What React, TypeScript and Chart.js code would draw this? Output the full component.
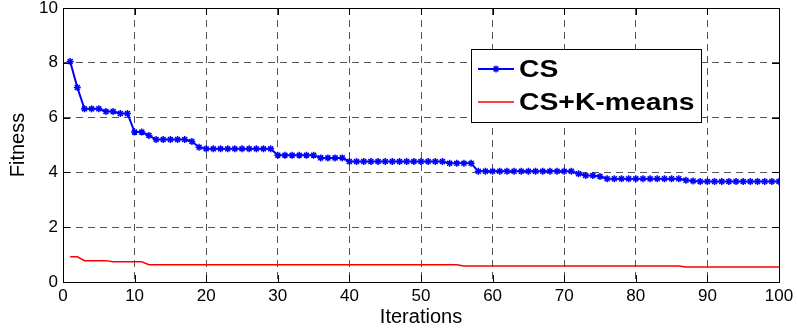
import React, { useEffect, useRef } from "react";
import { Chart, registerables } from "chart.js";

Chart.register(...registerables);

const SERIES_NAMES = ["CS", "CS+K-means"];
const X_TICKS = [0, 10, 20, 30, 40, 50, 60, 70, 80, 90, 100];
const Y_TICKS = [0, 2, 4, 6, 8, 10];

const CS_VALUES = [
  8.05, 7.1, 6.32, 6.32, 6.32, 6.22, 6.22, 6.15, 6.15, 5.47,
  5.47, 5.35, 5.2, 5.2, 5.2, 5.2, 5.2, 5.13, 4.92, 4.86,
  4.86, 4.86, 4.86, 4.86, 4.86, 4.86, 4.86, 4.86, 4.86, 4.63,
  4.63, 4.63, 4.63, 4.63, 4.63, 4.53, 4.53, 4.53, 4.53, 4.4,
  4.4, 4.4, 4.4, 4.4, 4.4, 4.4, 4.4, 4.4, 4.4, 4.4,
  4.4, 4.4, 4.4, 4.33, 4.33, 4.33, 4.33, 4.04, 4.04, 4.04,
  4.04, 4.04, 4.04, 4.04, 4.04, 4.04, 4.04, 4.04, 4.04, 4.04,
  4.04, 3.95, 3.89, 3.89, 3.85, 3.77, 3.77, 3.77, 3.77, 3.77,
  3.77, 3.77, 3.77, 3.77, 3.77, 3.77, 3.71, 3.69, 3.67, 3.67,
  3.67, 3.67, 3.67, 3.67, 3.67, 3.67, 3.67, 3.67, 3.67, 3.67,
];

const KMEANS_VALUES = [
  0.92, 0.92, 0.78, 0.78, 0.78, 0.78, 0.74, 0.74, 0.74, 0.74,
  0.74, 0.63, 0.63, 0.63, 0.63, 0.63, 0.63, 0.63, 0.63, 0.63,
  0.63, 0.63, 0.63, 0.63, 0.63, 0.63, 0.63, 0.63, 0.63, 0.63,
  0.63, 0.63, 0.63, 0.63, 0.63, 0.63, 0.63, 0.63, 0.63, 0.63,
  0.63, 0.63, 0.63, 0.63, 0.63, 0.63, 0.63, 0.63, 0.63, 0.63,
  0.63, 0.63, 0.63, 0.63, 0.63, 0.58, 0.58, 0.58, 0.58, 0.58,
  0.58, 0.58, 0.58, 0.58, 0.58, 0.58, 0.58, 0.58, 0.58, 0.58,
  0.58, 0.58, 0.58, 0.58, 0.58, 0.58, 0.58, 0.58, 0.58, 0.58,
  0.58, 0.58, 0.58, 0.58, 0.58, 0.58, 0.55, 0.55, 0.55, 0.55,
  0.55, 0.55, 0.55, 0.55, 0.55, 0.55, 0.55, 0.55, 0.55, 0.55,
];

const FONT = "'Liberation Sans', Arial, Helvetica, sans-serif";
const BLUE = "#0000ff";
const RED = "#ff0000";

const framePlugin = {
  id: "frameAndLegend",
  afterDraw(chart: any) {
    const { ctx, chartArea, scales } = chart;
    const { left, right, top, bottom } = chartArea;
    ctx.save();
    ctx.strokeStyle = "#000";
    ctx.lineWidth = 1;
    ctx.setLineDash([]);
    ctx.beginPath();
    ctx.rect(Math.round(left) + 0.5, Math.round(top) + 0.5, Math.round(right - left), Math.round(bottom - top));
    ctx.stroke();
    const tl = 7;
    ctx.beginPath();
    X_TICKS.forEach((v) => {
      const x = Math.round(scales.x.getPixelForValue(v)) + 0.5;
      ctx.moveTo(x, bottom);
      ctx.lineTo(x, bottom - tl);
      ctx.moveTo(x, top);
      ctx.lineTo(x, top + tl);
    });
    Y_TICKS.forEach((v) => {
      const y = Math.round(scales.y.getPixelForValue(v)) + 0.5;
      ctx.moveTo(left, y);
      ctx.lineTo(left + tl, y);
      ctx.moveTo(right, y);
      ctx.lineTo(right - tl, y);
    });
    ctx.stroke();

    // legend
    const lx = 471.5, ly = 49.5, lw = 230, lh = 73;
    ctx.fillStyle = "#fff";
    ctx.fillRect(lx, ly, lw, lh);
    ctx.strokeStyle = "#000";
    ctx.strokeRect(lx, ly, lw, lh);
    const rows = [
      { y: 69, color: BLUE, width: 2, marker: true, text: SERIES_NAMES[0] },
      { y: 102, color: RED, width: 1.5, marker: false, text: SERIES_NAMES[1] },
    ];
    rows.forEach((r) => {
      ctx.strokeStyle = r.color;
      ctx.lineWidth = r.width;
      ctx.beginPath();
      ctx.moveTo(478, r.y);
      ctx.lineTo(514, r.y);
      ctx.stroke();
      if (r.marker) {
        ctx.lineWidth = 1.5;
        ctx.beginPath();
        const mx = 496, my = r.y, s = 3.5;
        ctx.moveTo(mx - s, my); ctx.lineTo(mx + s, my);
        ctx.moveTo(mx, my - s); ctx.lineTo(mx, my + s);
        ctx.moveTo(mx - s * 0.7, my - s * 0.7); ctx.lineTo(mx + s * 0.7, my + s * 0.7);
        ctx.moveTo(mx - s * 0.7, my + s * 0.7); ctx.lineTo(mx + s * 0.7, my - s * 0.7);
        ctx.stroke();
      }
      ctx.save();
      ctx.fillStyle = "#000";
      ctx.font = `bold 24px ${FONT}`;
      ctx.textBaseline = "middle";
      ctx.textAlign = "left";
      ctx.translate(519, r.y + 1);
      ctx.scale(1.18, 1);
      ctx.fillText(r.text, 0, 0);
      ctx.restore();
    });
    ctx.restore();
  },
};

export default function App() {
  const ref = useRef<HTMLCanvasElement | null>(null);
  useEffect(() => {
    if (!ref.current) return;
    const chart = new Chart(ref.current, {
      type: "line",
      data: {
        datasets: [
          {
            label: SERIES_NAMES[0],
            data: CS_VALUES.map((v, i) => ({ x: i + 1, y: v })),
            borderColor: BLUE,
            backgroundColor: BLUE,
            borderWidth: 2,
            pointStyle: "star",
            pointRadius: 3.5,
            pointBorderWidth: 1.5,
            pointBorderColor: BLUE,
            pointBackgroundColor: BLUE,
            tension: 0,
          },
          {
            label: SERIES_NAMES[1],
            data: KMEANS_VALUES.map((v, i) => ({ x: i + 1, y: v })),
            borderColor: RED,
            backgroundColor: RED,
            borderWidth: 1.5,
            pointRadius: 0,
            tension: 0,
          },
        ],
      },
      options: {
        responsive: false,
        animation: false,
        layout: { padding: { left: 0, right: 18, top: 8, bottom: 0 } },
        plugins: { legend: { display: false }, tooltip: { enabled: false } },
        scales: {
          x: {
            type: "linear",
            min: 0,
            max: 100,
            afterFit: (s: any) => { s.height = 50; s.paddingLeft = 0; s.paddingRight = 0; },
            afterBuildTicks: (s: any) => { s.ticks = X_TICKS.map((v) => ({ value: v })); },
            ticks: { font: { size: 17, family: FONT }, color: "#000", padding: 4, maxRotation: 0, autoSkip: false },
            grid: { color: "#555", lineWidth: 1, drawTicks: false },
            border: { display: true, color: "#000", width: 1, dash: [7, 5] },
            title: { display: true, text: "Iterations", color: "#000", font: { size: 20, family: FONT }, padding: { top: 0, bottom: 3 } },
          },
          y: {
            type: "linear",
            min: 0,
            max: 10,
            afterFit: (s: any) => { s.width = 63; s.paddingTop = 0; s.paddingBottom = 0; },
            afterBuildTicks: (s: any) => { s.ticks = Y_TICKS.map((v) => ({ value: v })); },
            ticks: { font: { size: 17, family: FONT }, color: "#000", padding: 5 },
            grid: { color: "#555", lineWidth: 1, drawTicks: false },
            border: { display: true, color: "#000", width: 1, dash: [7, 5] },
            title: { display: true, text: "Fitness", color: "#000", font: { size: 20, family: FONT }, padding: { top: 6, bottom: 0 } },
          },
        },
      },
      plugins: [framePlugin],
    } as any);
    return () => chart.destroy();
  }, []);
  return (
    <div style={{ position: "absolute", left: 0, top: 0, width: 797, height: 332, background: "#fff" }}>
      <canvas ref={ref} width={797} height={332} />
    </div>
  );
}
